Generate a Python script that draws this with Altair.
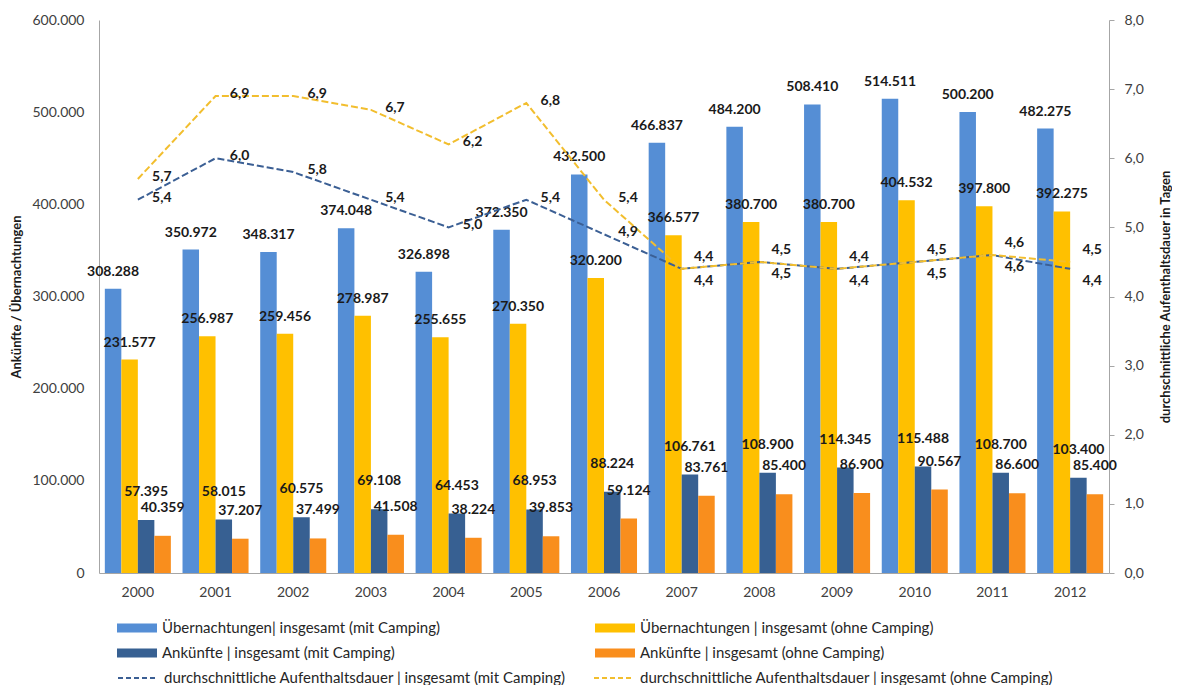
import altair as alt
import pandas as pd

jahre = [str(y) for y in range(2000, 2013)]
uebernachtungen_mit = [308288, 350972, 348317, 374048, 326898, 372350, 432500,
                       466837, 484200, 508410, 514511, 500200, 482275]
uebernachtungen_ohne = [231577, 256987, 259456, 278987, 255655, 270350, 320200,
                        366577, 380700, 380700, 404532, 397800, 392275]
ankuenfte_mit = [57395, 58015, 60575, 69108, 64453, 68953, 88224,
                 106761, 108900, 114345, 115488, 108700, 103400]
ankuenfte_ohne = [40359, 37207, 37499, 41508, 38224, 39853, 59124,
                  83761, 85400, 86900, 90567, 86600, 85400]
dauer_mit = [5.4, 6.0, 5.8, 5.4, 5.0, 5.4, 4.9, 4.4, 4.5, 4.4, 4.5, 4.6, 4.4]
dauer_ohne = [5.7, 6.9, 6.9, 6.7, 6.2, 6.8, 5.4, 4.4, 4.5, 4.4, 4.5, 4.6, 4.5]

bar_serien = [
    "Übernachtungen| insgesamt (mit Camping)",
    "Übernachtungen | insgesamt (ohne Camping)",
    "Ankünfte | insgesamt (mit Camping)",
    "Ankünfte | insgesamt (ohne Camping)",
]
line_serien = [
    "durchschnittliche Aufenthaltsdauer | insgesamt (mit Camping)",
    "durchschnittliche Aufenthaltsdauer | insgesamt (ohne Camping)",
]
bar_farben = ["#558ED5", "#FFC000", "#376092", "#F98E1D"]
line_farben = ["#3B5F94", "#F2BE2E"]

bar_values = [uebernachtungen_mit, uebernachtungen_ohne, ankuenfte_mit, ankuenfte_ohne]
bar_rows = []
for s, vals in zip(bar_serien, bar_values):
    for j, v in zip(jahre, vals):
        bar_rows.append({"Jahr": j, "Serie": s, "Wert": v})
df_bars = pd.DataFrame(bar_rows)

line_rows = []
for s, vals in zip(line_serien, [dauer_mit, dauer_ohne]):
    for j, v in zip(jahre, vals):
        line_rows.append({"Jahr": j, "Linie": s, "Tage": v})
df_lines = pd.DataFrame(line_rows)

FONT = "Lato"

bar_legend = alt.Legend(
    title=None, orient="none", legendX=18, legendY=598, columns=2, direction="horizontal",
    columnPadding=154, rowPadding=5, symbolSize=1600, clipHeight=20,
    symbolType="M-1,-0.22H1V0.22H-1Z", symbolStrokeWidth=0, labelFont=FONT,
    labelFontSize=15, labelColor="#262626", labelOffset=5, labelLimit=700,
)
line_legend = alt.Legend(
    title=None, orient="none", legendX=18, legendY=648, columns=2, direction="horizontal",
    columnPadding=27, rowPadding=5, symbolSize=1600, clipHeight=20,
    symbolType="stroke", symbolStrokeWidth=2, symbolDash=[5, 3], labelFont=FONT,
    labelFontSize=15, labelColor="#262626", labelOffset=5, labelLimit=700,
)
color = alt.Color("Serie:N", scale=alt.Scale(domain=bar_serien, range=bar_farben),
                  legend=bar_legend)
stroke = alt.Stroke("Linie:N", scale=alt.Scale(domain=line_serien, range=line_farben),
                    legend=line_legend)

x_enc = alt.X("Jahr:N", sort=jahre,
              scale=alt.Scale(paddingInner=0.15, paddingOuter=0.075),
              axis=alt.Axis(title=None, labelAngle=0, ticks=False, labelFontSize=14,
                            labelPadding=12, domainColor="#A6A6A6", labelColor="#404040",
                            labelFont=FONT))
xoff = alt.XOffset("Serie:N", scale=alt.Scale(domain=bar_serien, paddingInner=0, paddingOuter=0))

y_left = alt.Y("Wert:Q",
               scale=alt.Scale(domain=[0, 600000], nice=False),
               axis=alt.Axis(title="Ankünfte / Übernachtungen",
                             values=[0, 100000, 200000, 300000, 400000, 500000, 600000],
                             labelExpr="replace(format(datum.value, ','), ',', '.')",
                             ticks=False, grid=False, labelPadding=15, labelFontSize=14,
                             labelColor="#404040", labelFont=FONT, domainColor="#A6A6A6",
                             titleFont=FONT, titleFontSize=13, titleFontWeight="bold",
                             titleColor="#1a1a1a", titlePadding=8))
y_right = alt.Y("Tage:Q",
                scale=alt.Scale(domain=[0, 8], nice=False),
                axis=alt.Axis(orient="right", title="durchschnittliche Aufenthaltsdauer in Tagen",
                              values=[0, 1, 2, 3, 4, 5, 6, 7, 8],
                              labelExpr="replace(format(datum.value, '.1f'), '.', ',')",
                              tickSize=5, grid=False, labelPadding=10, labelFontSize=14,
                              labelColor="#404040", labelFont=FONT, domainColor="#A6A6A6",
                              tickColor="#A6A6A6", titleFont=FONT, titleFontSize=13,
                              titleFontWeight="bold", titleColor="#1a1a1a", titlePadding=29,
                              titleAngle=270))

bars_base = alt.Chart(df_bars)
bars = bars_base.mark_bar().encode(x=x_enc, xOffset=xoff, y=y_left, color=color)

bar_lbl = bars_base.transform_calculate(
    lbl="replace(format(datum.Wert, ','), ',', '.')")
lbl_style = dict(font=FONT, fontSize=14, fontWeight="bold", color="#1a1a1a", baseline="middle")
bar_text_top = bar_lbl.transform_filter("indexof(datum.Serie, 'Übernachtungen') >= 0").mark_text(
    dy=-17, **lbl_style).encode(x=x_enc, xOffset=xoff, y=y_left, text="lbl:N")
bar_text_low = bar_lbl.transform_filter("indexof(datum.Serie, 'Ankünfte') >= 0").mark_text(
    dy=-28, **lbl_style).encode(x=x_enc, xOffset=xoff, y=y_left, text="lbl:N")

left = alt.layer(bars, bar_text_top, bar_text_low)

lines_base = alt.Chart(df_lines)
lines = lines_base.mark_line(strokeDash=[7, 3], strokeWidth=2).encode(
    x=x_enc, y=y_right, stroke=stroke)
line_lbl = lines_base.transform_calculate(
    lbl="replace(format(datum.Tage, '.1f'), '.', ',')")
early = "toNumber(datum.Jahr) < 2007"
late = "toNumber(datum.Jahr) >= 2007"
is_ohne = "indexof(datum.Linie, 'ohne') >= 0"
is_mit = "indexof(datum.Linie, 'ohne') < 0"
lt_early = line_lbl.transform_filter(early).mark_text(dx=24, dy=-2, **lbl_style).encode(
    x=x_enc, y=y_right, text="lbl:N")
lt_late_ohne = line_lbl.transform_filter(late).transform_filter(is_ohne).mark_text(
    dx=22, dy=-12, **lbl_style).encode(x=x_enc, y=y_right, text="lbl:N")
lt_late_mit = line_lbl.transform_filter(late).transform_filter(is_mit).mark_text(
    dx=22, dy=12, **lbl_style).encode(x=x_enc, y=y_right, text="lbl:N")

right = alt.layer(lines, lt_early, lt_late_ohne, lt_late_mit)

chart = alt.layer(left, right).resolve_scale(y="independent").properties(
    width=1010, height=553,
    autosize=alt.AutoSizeParams(type="none"),
    padding={"left": 91, "top": 12, "right": 63, "bottom": 112},
).configure_view(stroke=None).configure_axis(grid=False)

chart.save("out.html", embed_options={"renderer": "svg", "actions": False})
